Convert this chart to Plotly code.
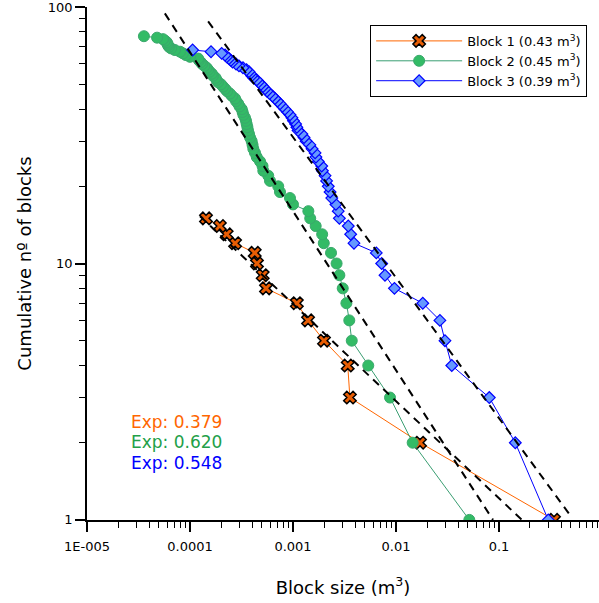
import plotly.graph_objects as go

# ---------------- data ----------------
block1_size = [0.342, 0.0171, 0.00357, 0.00340, 0.00200, 0.00140, 0.00109,
               0.000547, 0.000508, 0.000447, 0.000425, 0.000274, 0.000227,
               0.000195, 0.000143]
block1_count = list(range(1, len(block1_size) + 1))

block2_size = [0.0515, 0.01452, 0.00875, 0.00538, 0.00372, 0.00352, 0.00330,
               0.00304, 0.00282, 0.00265, 0.00234, 0.00199, 0.00192, 0.00166,
               0.00147, 0.00141, 0.00100, 0.000935, 0.000748, 0.000719,
               0.000598, 0.000575, 0.000515, 0.000506, 0.000479, 0.000445,
               0.000428, 0.000412, 0.000405, 0.000397, 0.000383, 0.000374,
               0.000366, 0.000361, 0.000355, 0.000350, 0.000342, 0.000330,
               0.000324, 0.000318, 0.000303, 0.000294, 0.000280, 0.000274,
               0.000256, 0.000244, 0.000229, 0.000219, 0.000209, 0.000200,
               0.000187, 0.000181, 0.000177, 0.000167, 0.000163, 0.000155,
               0.000150, 0.000145, 0.000138, 0.000131, 0.000127, 0.000122,
               0.000120, 0.000100, 0.0000914, 0.0000855, 0.0000800, 0.0000714,
               0.0000655, 0.0000625, 0.0000611, 0.0000605, 0.0000594,
               0.0000571, 0.0000547, 0.0000479, 0.0000357]
block2_count = list(range(1, len(block2_size) + 1))

block3_size = [0.301, 0.144, 0.0805, 0.0348, 0.0299, 0.0267, 0.0182, 0.00966,
               0.00782, 0.00726, 0.00644, 0.00391, 0.00363, 0.00344, 0.00282,
               0.00275, 0.00261, 0.00238, 0.00229, 0.00220, 0.00212, 0.00205,
               0.00193, 0.00190, 0.00176, 0.00167, 0.00164, 0.00153, 0.00146,
               0.00134, 0.00128, 0.00122, 0.00112, 0.00109, 0.00106, 0.00101,
               0.000977, 0.000935, 0.000885, 0.000836, 0.000791, 0.000748,
               0.000708, 0.000668, 0.000632, 0.000592, 0.000560, 0.000535,
               0.000512, 0.000489, 0.000462, 0.000445, 0.000414, 0.000397,
               0.000386, 0.000374, 0.000354, 0.000327, 0.000299, 0.000280,
               0.000259, 0.000250, 0.000239, 0.000227, 0.000219, 0.000203,
               0.000160, 0.000106]
block3_count = list(range(1, len(block3_size) + 1))

series_names = ["Block 1 (0.43 m<sup>3</sup>)", "Block 2 (0.45 m<sup>3</sup>)",
                "Block 3 (0.39 m<sup>3</sup>)"]

# power-law fits: N = (x / x_at_1) ** (-exp)
fit_exponent = [0.379, 0.620, 0.548]
fit_x_at_one = [0.167, 0.0875, 0.53]
fit_x_start = [1.25e-4, 5.7e-5, 1.5e-4]
fit_x_end = [0.167, 0.0875, 0.512]

x_tickvals = [1e-5, 1e-4, 1e-3, 1e-2, 1e-1]
x_ticktext = ["1E-005", "0.0001", "0.001", "0.01", "0.1"]
y_tickvals = [1, 10, 100]
y_ticktext = ["1", "10", "100"]

# ---------------- figure ----------------
FONT = "DejaVu Sans"
fig = go.Figure()

fig.add_trace(go.Scatter(
    x=block1_size, y=block1_count, name=series_names[0], mode="lines+markers",
    line=dict(color="#ff6600", width=1),
    marker=dict(symbol="x", size=11, color="#e85d04",
                line=dict(color="black", width=1.5))))
fig.add_trace(go.Scatter(
    x=block2_size, y=block2_count, name=series_names[1], mode="lines+markers",
    line=dict(color="#3a9e72", width=1),
    marker=dict(symbol="circle", size=11, color="#33bb66",
                line=dict(color="#3aa86c", width=1))))
fig.add_trace(go.Scatter(
    x=block3_size, y=block3_count, name=series_names[2], mode="lines+markers",
    line=dict(color="#0000ff", width=1),
    marker=dict(symbol="diamond", size=9, color="#6699ff",
                line=dict(color="#0000ff", width=1.2))))

for e, x1, xs, xe in zip(fit_exponent, fit_x_at_one, fit_x_start, fit_x_end):
    xx = [xs, xe]
    yy = [(v / x1) ** (-e) for v in xx]
    fig.add_trace(go.Scatter(x=xx, y=yy, mode="lines", showlegend=False,
                             line=dict(color="black", width=2, dash="8px,6px"),
                             hoverinfo="skip"))

exp_colors = ["#ff6600", "#22a048", "#0000ff"]
exp_y = [0.191, 0.152, 0.111]
for e, c, yp in zip(fit_exponent, exp_colors, exp_y):
    fig.add_annotation(text=f"Exp: {e:.3f}", xref="paper", yref="paper",
                       x=0.083, y=yp, xanchor="left", yanchor="middle",
                       showarrow=False, font=dict(family=FONT, size=17, color=c))

fig.update_layout(
    width=599, height=603,
    margin=dict(l=87, r=0, t=7, b=83),
    paper_bgcolor="white", plot_bgcolor="white",
    font=dict(family=FONT, size=13, color="black"),
    showlegend=True,
    legend=dict(x=0.553, y=0.965, xanchor="left", yanchor="top",
                bgcolor="white", bordercolor="black", borderwidth=1,
                font=dict(family=FONT, size=13), itemwidth=86,
                tracegroupgap=0),
)
fig.update_xaxes(
    type="log", range=[-5, -0.029], showgrid=False, zeroline=False,
    automargin=False, ticklabeloverflow="allow", ticklabelstandoff=4,
    showline=True, linecolor="black", linewidth=1.5,
    tickvals=x_tickvals, ticktext=x_ticktext,
    ticks="outside", ticklen=10, tickwidth=1.5, tickcolor="black",
    minor=dict(ticks="outside", ticklen=6, tickwidth=1, tickcolor="black",
               dtick="D1", showgrid=False),
    title=dict(text="Block size (m<sup>3</sup>)", font=dict(family=FONT, size=18),
               standoff=28),
    tickfont=dict(family=FONT, size=13),
)
fig.update_yaxes(
    type="log", range=[-0.0004, 2.0004], showgrid=False, zeroline=False,
    automargin=False, ticklabeloverflow="allow",
    showline=True, linecolor="black", linewidth=1.5,
    tickvals=y_tickvals, ticktext=y_ticktext,
    ticks="outside", ticklen=10, tickwidth=1.5, tickcolor="black",
    minor=dict(ticks="outside", ticklen=6, tickwidth=1, tickcolor="black",
               dtick="D1", showgrid=False),
    title=dict(text="Cumulative nº of blocks", font=dict(family=FONT, size=18),
               standoff=12),
    tickfont=dict(family=FONT, size=13),
)

fig.write_html("out.html", config={"displayModeBar": False},
               post_script="document.body.style.margin='0';")
